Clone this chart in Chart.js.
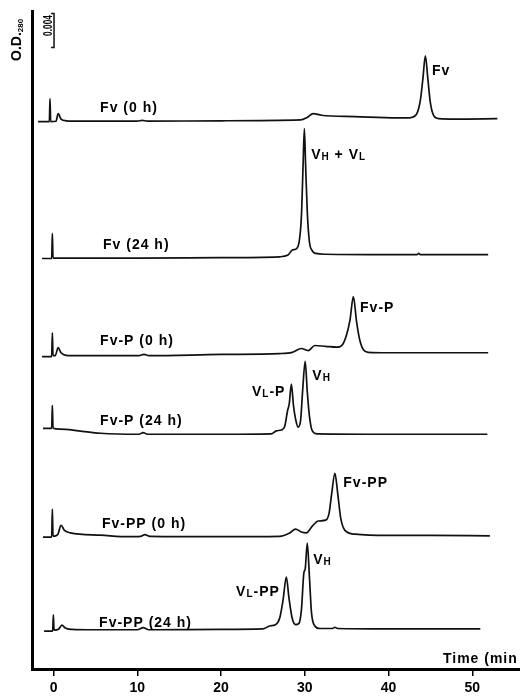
<!DOCTYPE html>
<html><head><meta charset="utf-8">
<script src="https://cdn.jsdelivr.net/npm/chart.js@4"></script>
<style>html,body{margin:0;padding:0;background:#fff}#wrap{width:520px;height:696px;position:relative}</style>
</head><body><div id="wrap"><canvas id="c" width="520" height="696"></canvas></div>
<script>
// ---------- DATA ----------
const timeTicks = [0, 10, 20, 30, 40, 50];           // min
const xRange = [-2.57, 55.7];                         // min
const yRange = [0, 77.5];                             // mAU (O.D. x 1000)
const traceNames = ['Fv (0 h)', 'Fv (24 h)', 'Fv-P (0 h)', 'Fv-P (24 h)', 'Fv-PP (0 h)', 'Fv-PP (24 h)'];
const baselines = [64.47, 48.35, 36.8, 27.65, 15.53, 4.47]; // vertical offset of each trace, mAU

const fv0_t = [-1.85,-0.5,-0.42,-0.34,0.3,0.55,0.9,1.5,3,10,10.6,11.2,20,29.5,30.3,31.0,32,36,41,42.5,43.3,43.8,44.1,44.4,44.7,45.0,45.4,46,48,53.0];
const fv0_v = [0,0,2.7,0,0.05,0.95,0.3,0.1,0.05,0.05,0.15,0.05,0.1,0.2,0.5,0.95,0.75,0.6,0.45,0.45,0.8,2.5,5.0,7.76,5.0,2.2,0.7,0.35,0.3,0.35];

const fv24_t = [-1.37,-0.22,-0.14,-0.06,1,10,20,27,28,28.5,28.9,29.3,29.6,29.8,29.95,30.1,30.3,30.55,30.9,31.3,32.5,40,43.4,43.6,43.8,51.9];
const fv24_v = [0,0,2.95,0.05,0.05,0.05,0.1,0.2,0.4,1.0,1.1,1.8,5,11,15.3,11,5.5,2.0,0.9,0.6,0.5,0.45,0.45,0.6,0.45,0.45];

const fvp0_t = [-1.37,-0.22,-0.14,-0.06,0.2,0.55,0.9,1.5,3,10.2,10.8,11.4,20,27,28.5,29.6,30.4,31.2,32.5,33.8,34.5,35.0,35.4,35.8,36.2,36.6,37.0,37.6,40,51.9];
const fvp0_v = [0,0,2.8,0.1,0.1,1.05,0.45,0.15,0.1,0.1,0.25,0.1,0.25,0.35,0.5,0.95,0.7,1.3,1.2,1.1,1.4,2.6,4.3,7.06,4.0,1.8,0.8,0.5,0.45,0.45];

const fvp24_t = [-1.25,-0.22,-0.14,-0.06,0.8,3,5.6,10.2,10.7,11.2,20,26,26.6,27.2,27.6,27.95,28.15,28.4,28.65,28.9,29.2,29.5,29.75,30.05,30.3,30.55,30.9,31.5,40,51.8];
const fvp24_v = [0.7,0.7,3.4,0.7,0.6,0.4,0.12,0,0.2,0,0,0.05,0.4,0.5,0.9,2.8,3.6,5.9,3.4,1.8,0.85,1.6,5.2,8.6,5.0,2.2,0.4,0.05,0,0];

const fvpp0_t = [-1.25,-0.22,-0.14,-0.06,0.5,0.9,1.3,2,5.6,9,10.4,10.9,11.5,20,27,28.2,28.9,29.6,30.2,30.9,31.6,32.5,32.9,33.2,33.6,33.95,34.3,34.8,36,40,45,52.1];
const fvpp0_v = [0,0,3.3,0.1,0.3,1.4,0.8,0.5,0.24,0.05,0.1,0.3,0.1,0.05,0.1,0.5,0.95,0.6,0.5,1.3,1.9,2.0,2.8,5,7.5,5,2.2,0.8,0.35,0.2,0.2,0.15];

const fvpp24_t = [-1.13,-0.1,-0.02,0.06,0.6,1.0,1.4,2.2,5,10,10.7,11.4,20,25,25.8,26.5,27.0,27.4,27.8,28.1,28.5,28.9,29.3,29.6,29.9,30.05,30.3,30.55,30.8,31.2,31.8,33.3,33.6,33.9,40,50.96];
const fvpp24_v = [0,0,1.9,0.1,0.2,0.7,0.35,0.2,0.15,0.15,0.4,0.15,0.2,0.25,0.6,0.75,1.5,3.6,6.35,4.0,1.5,0.75,0.9,2.5,6.9,7.3,10.35,6.5,2.2,0.6,0.3,0.3,0.45,0.3,0.25,0.25];

const scaleBarValue = 4;        // mAU
const scaleBarLabel = '0.004';
const yAxisTitle = ['O.D.', '280'];
const xAxisTitle = 'Time (min';

// peak labels: segments [text, isSmall]
const peakLabelText = [
  [['Fv',0]],
  [['V',0],['H',1],[' + ',0],['V',0],['L',1]],
  [['Fv-P',0]],
  [['V',0],['L',1],['-P',0]],
  [['V',0],['H',1]],
  [['Fv-PP',0]],
  [['V',0],['L',1],['-PP',0]],
  [['V',0],['H',1]]
];

// ---------- ANNOTATION POSITIONS (data units: min, mAU) ----------
const traceLabelPos = [[5.56,66.2],[5.91,50.1],[5.56,38.7],[5.56,29.3],[5.79,17.2],[5.44,5.5]];
const peakLabelPos = [[45.2,70.5],[30.76,60.7],[36.6,42.6],[23.7,32.7],[30.9,34.6],[34.6,22.0],[21.8,9.18],[31.0,12.9]];
const scaleBarPos = [0.06, 77.2];
const xTitlePos = [46.5, 1.3];

// ---------- BUILD ----------
const traceT = [fv0_t, fv24_t, fvp0_t, fvp24_t, fvpp0_t, fvpp24_t];
const traceV = [fv0_v, fv24_v, fvp0_v, fvp24_v, fvpp0_v, fvpp24_v];
const FONT = '"Liberation Sans", Arial, Helvetica, sans-serif';

const datasets = traceT.map((ts, k) => ({
  label: traceNames[k],
  data: ts.map((t, i) => ({x: t, y: baselines[k] + traceV[k][i]})),
  borderColor: '#111', borderWidth: 1.7, pointRadius: 0, fill: false,
  cubicInterpolationMode: 'monotone'
}));
datasets.push({
  label: 'scale',
  data: [
    {x: scaleBarPos[0] - 0.35, y: scaleBarPos[1]},
    {x: scaleBarPos[0], y: scaleBarPos[1]},
    {x: scaleBarPos[0], y: scaleBarPos[1] - scaleBarValue},
    {x: scaleBarPos[0] - 0.35, y: scaleBarPos[1] - scaleBarValue}
  ],
  borderColor: '#111', borderWidth: 1.5, pointRadius: 0, tension: 0, fill: false
});

function drawRich(ctx, segs, x, cy) {
  let cx = x;
  const base = cy + 5;
  for (const [txt, small] of segs) {
    ctx.font = 'bold ' + (small ? 10 : 14) + 'px ' + FONT;
    ctx.fillText(txt, cx, base + (small ? 1 : 0));
    cx += ctx.measureText(txt).width;
  }
}

const annot = {
  id: 'annot',
  afterDraw(chart) {
    const {ctx, scales: {x, y}, chartArea} = chart;
    ctx.save();
    ctx.fillStyle = '#000';
    ctx.textAlign = 'left';
    ctx.textBaseline = 'alphabetic';
    try { ctx.letterSpacing = '1px'; } catch (e) {}
    traceNames.forEach((n, k) => {
      drawRich(ctx, [[n, 0]], x.getPixelForValue(traceLabelPos[k][0]), y.getPixelForValue(traceLabelPos[k][1]));
    });
    peakLabelText.forEach((segs, k) => {
      drawRich(ctx, segs, x.getPixelForValue(peakLabelPos[k][0]), y.getPixelForValue(peakLabelPos[k][1]));
    });
    drawRich(ctx, [[xAxisTitle, 0]], x.getPixelForValue(xTitlePos[0]), y.getPixelForValue(xTitlePos[1]));
    try { ctx.letterSpacing = '0px'; } catch (e) {}

    // scale bar label
    const bx = x.getPixelForValue(scaleBarPos[0]);
    const by1 = y.getPixelForValue(scaleBarPos[1]);
    const by2 = y.getPixelForValue(scaleBarPos[1] - scaleBarValue);
    ctx.save();
    ctx.translate(bx - 2.5, (by1 + by2) / 2 - 5);
    ctx.rotate(-Math.PI / 2);
    ctx.font = 'bold 12px ' + FONT;
    ctx.textAlign = 'center';
    ctx.fillText(scaleBarLabel, 0, 0, 21);
    ctx.restore();

    // y-axis title O.D.280
    ctx.save();
    ctx.translate(chartArea.left - 11, 61);
    ctx.rotate(-Math.PI / 2);
    ctx.textAlign = 'left';
    ctx.font = 'bold 14px ' + FONT;
    ctx.fillText(yAxisTitle[0], 0, 0);
    const w = ctx.measureText(yAxisTitle[0]).width;
    ctx.font = 'bold 8px ' + FONT;
    ctx.fillText(yAxisTitle[1], w, 2);
    ctx.restore();
    ctx.restore();
  }
};

new Chart(document.getElementById('c'), {
  type: 'line',
  data: {datasets},
  plugins: [annot],
  options: {
    responsive: false, animation: false,
    layout: {padding: {top: 11, left: 0, right: 0, bottom: 0}},
    plugins: {legend: {display: false}, tooltip: {enabled: false}},
    scales: {
      x: {
        type: 'linear', min: xRange[0], max: xRange[1],
        afterBuildTicks: s => { s.ticks = timeTicks.map(v => ({value: v})); },
        afterFit: s => { s.height = 27; },
        grid: {drawOnChartArea: false, drawTicks: true, tickLength: 7, color: '#000', lineWidth: 1.5},
        border: {display: true, width: 3, color: '#000'},
        ticks: {color: '#000', font: {family: FONT, size: 14, weight: 'bold'}, padding: 4, maxRotation: 0, autoSkip: false}
      },
      y: {
        type: 'linear', min: yRange[0], max: yRange[1],
        afterFit: s => { s.width = 32; },
        grid: {display: false, drawTicks: false},
        ticks: {display: false},
        border: {display: true, width: 3, color: '#000'}
      }
    }
  }
});
</script></body></html>
